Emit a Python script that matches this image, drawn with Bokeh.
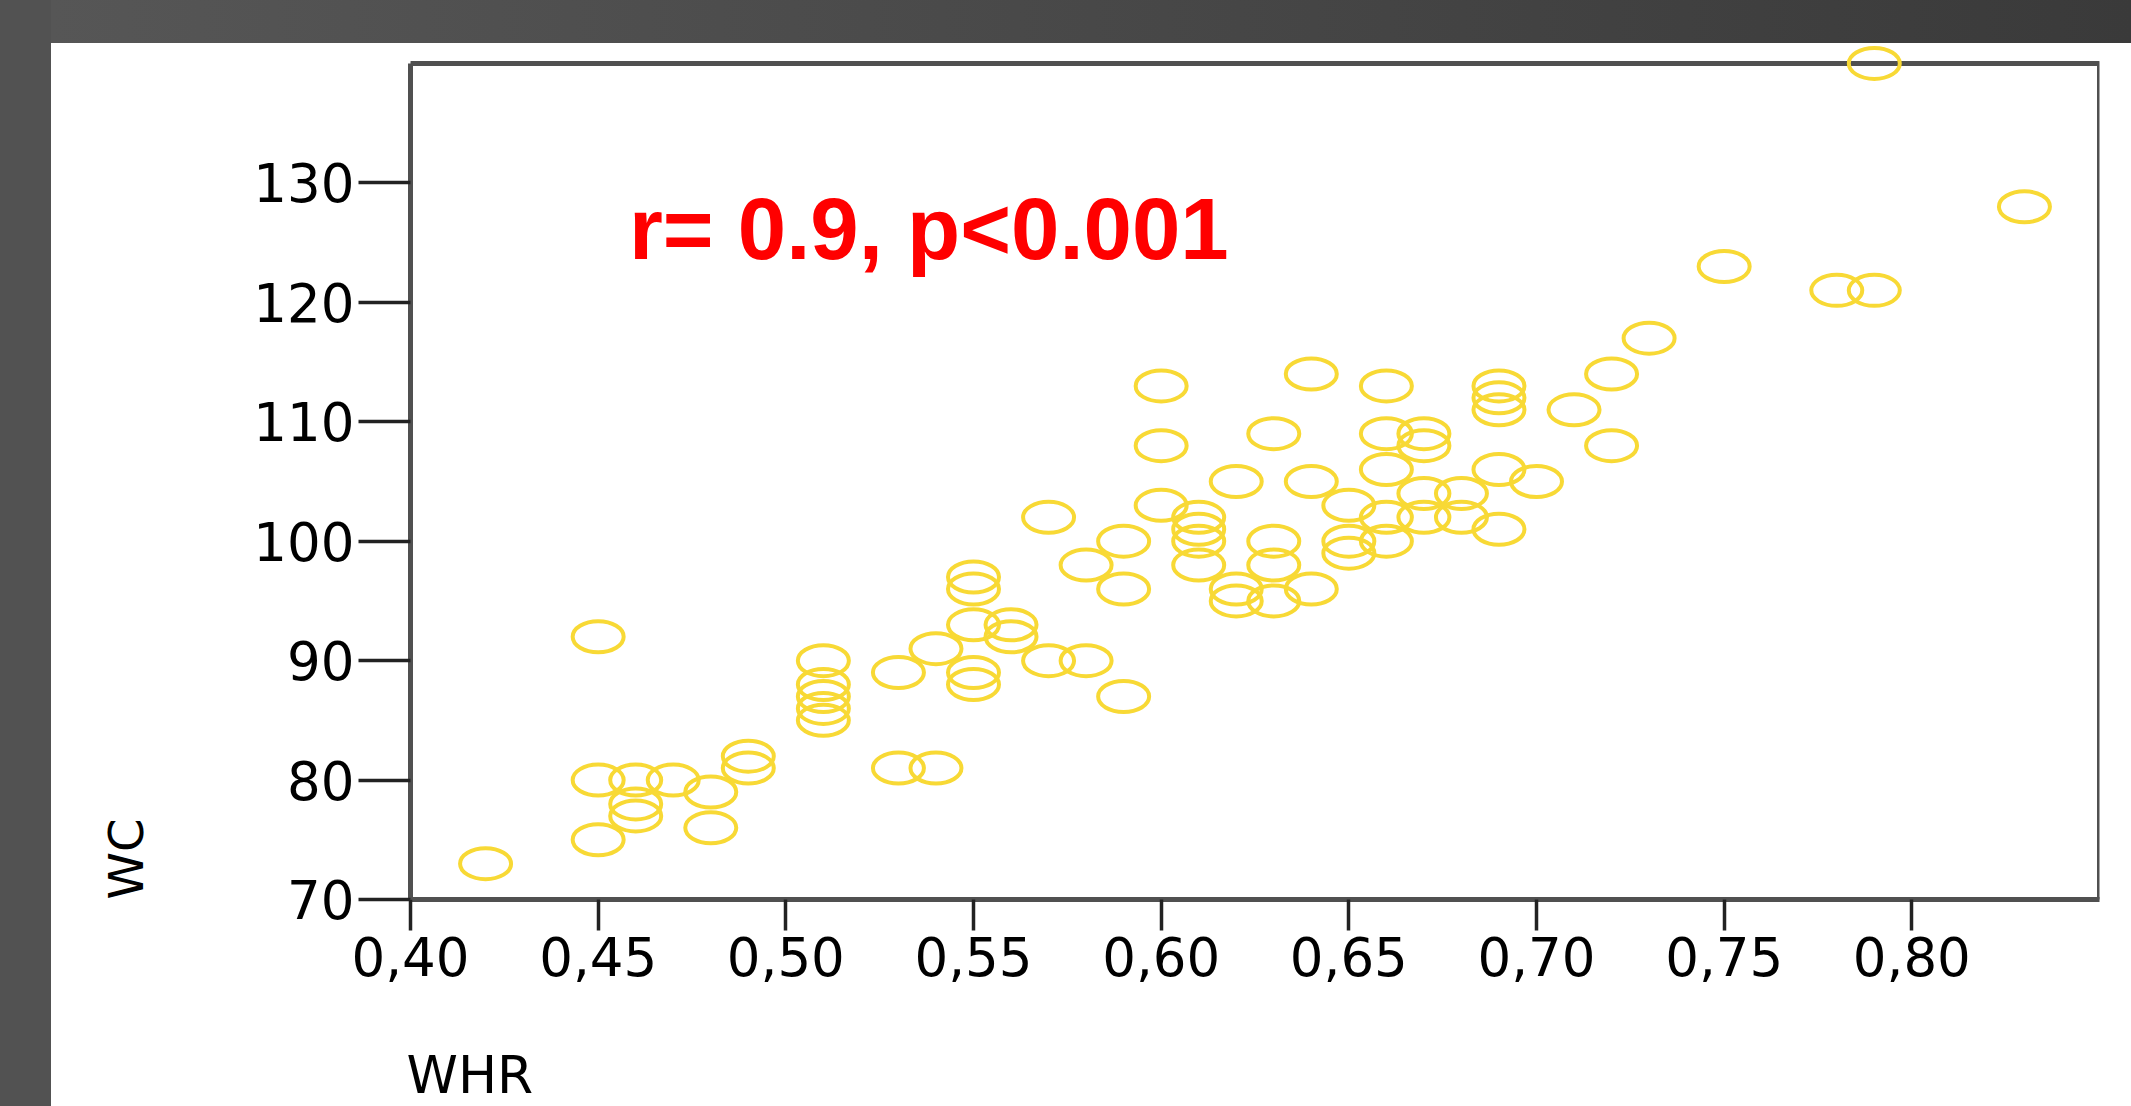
from bokeh.plotting import figure
from bokeh.models import (Range1d, FixedTicker, Label, BoxAnnotation, Spacer,
                          ColumnDataSource, Title)
from bokeh.layouts import row, column
from bokeh.embed import file_html
from bokeh.resources import INLINE

# ---------------- data ----------------
whr = [0.42,
       0.45, 0.45, 0.45,
       0.46, 0.46, 0.46,
       0.47,
       0.48, 0.48,
       0.49, 0.49,
       0.51, 0.51, 0.51, 0.51, 0.51,
       0.53, 0.53,
       0.54, 0.54,
       0.55, 0.55, 0.55, 0.55, 0.55,
       0.56, 0.56,
       0.57, 0.57,
       0.58, 0.58,
       0.59, 0.59, 0.59,
       0.60, 0.60, 0.60,
       0.61, 0.61, 0.61, 0.61,
       0.62, 0.62, 0.62,
       0.63, 0.63, 0.63, 0.63,
       0.64, 0.64, 0.64,
       0.65, 0.65, 0.65,
       0.66, 0.66, 0.66, 0.66, 0.66,
       0.67, 0.67, 0.67, 0.67,
       0.68, 0.68,
       0.69, 0.69, 0.69, 0.69, 0.69,
       0.70,
       0.71,
       0.72, 0.72,
       0.73,
       0.75,
       0.78,
       0.79, 0.79,
       0.83]
wc = [73,
      92, 80, 75,
      80, 78, 77,
      80,
      79, 76,
      82, 81,
      90, 88, 87, 86, 85,
      89, 81,
      91, 81,
      97, 96, 93, 89, 88,
      93, 92,
      102, 90,
      98, 90,
      100, 96, 87,
      113, 108, 103,
      102, 101, 100, 98,
      105, 96, 95,
      109, 100, 98, 95,
      114, 105, 96,
      103, 100, 99,
      113, 109, 106, 102, 100,
      109, 108, 104, 102,
      104, 102,
      113, 112, 111, 106, 101,
      105,
      111,
      114, 108,
      117,
      123,
      121,
      140, 121,
      128]

x_ticks = [0.40, 0.45, 0.50, 0.55, 0.60, 0.65, 0.70, 0.75, 0.80]
x_tick_labels = ["0,40", "0,45", "0,50", "0,55", "0,60", "0,65", "0,70", "0,75", "0,80"]
y_ticks = [70, 80, 90, 100, 110, 120, 130]
y_tick_labels = ["70", "80", "90", "100", "110", "120", "130"]

x_title = "WHR"
y_title = "WC"
stat_text = "r= 0.9, p<0.001"

# ---------------- figure ----------------
FRAME_GRAY = "#505050"
YELLOW = "#F8D935"

p = figure(width=2080, height=1063,
           x_range=Range1d(0.40, 0.85), y_range=Range1d(70, 141.67),
           output_backend="svg", toolbar_location=None,
           min_border_left=359, min_border_right=32,
           min_border_top=0, min_border_bottom=207)
p.background_fill_color = "white"
p.border_fill_color = "white"
p.outline_line_color = None
p.xgrid.visible = False
p.ygrid.visible = False

src = ColumnDataSource(data=dict(whr=whr, wc=wc))
p.ellipse(x="whr", y="wc", width=51, height=31,
          width_units="screen", height_units="screen",
          fill_color=None, line_color=YELLOW, line_width=4, source=src)

# frame box (top/right edges; left/bottom coincide with the axes)
p.add_layout(BoxAnnotation(left=0.40, right=0.85, bottom=70, top=140,
                           fill_alpha=0, fill_color=None,
                           line_color=FRAME_GRAY, line_alpha=1.0,
                           line_width=5, level="underlay"))

for ax in (p.xaxis[0], p.yaxis[0]):
    ax.axis_line_color = FRAME_GRAY
    ax.axis_line_width = 5
    ax.major_tick_line_color = "#222222"
    ax.major_tick_line_width = 3.5
    ax.major_tick_in = 0
    ax.minor_tick_line_color = None
    ax.major_label_text_font = "DejaVu Sans"
    ax.major_label_text_font_size = "53px"
    ax.major_label_text_color = "black"

p.xaxis.ticker = FixedTicker(ticks=x_ticks)
p.xaxis.major_label_overrides = {t: s for t, s in zip(x_ticks, x_tick_labels)}
p.xaxis.major_tick_out = 31
p.xaxis.major_label_standoff = 6
p.xaxis.bounds = (0.40, 0.85)

p.yaxis.ticker = FixedTicker(ticks=y_ticks)
p.yaxis.major_label_overrides = {t: s for t, s in zip(y_ticks, y_tick_labels)}
p.yaxis.major_tick_out = 52
p.yaxis.major_label_standoff = 4
p.yaxis.bounds = (70, 140)

# correlation annotation
p.add_layout(Label(x=0.4582, y=126.2, text=stat_text,
                   text_font="Liberation Sans", text_font_style="bold",
                   text_font_size="87px", text_color="#FF0000",
                   text_align="left", text_baseline="middle"))

# axis titles, aligned to the start of each axis as in the original;
# a blank title in front of each one only reserves the gap to the axis
p.add_layout(Title(text=" ", text_font_size="10px", standoff=51), "below")
p.add_layout(Title(text=x_title, align="left", vertical_align="bottom",
                   standoff=0, offset=-4,
                   text_font="DejaVu Sans", text_font_size="52px",
                   text_font_style="normal", text_color="black"), "below")
p.add_layout(Title(text=" ", text_font_size="10px", standoff=82), "left")
p.add_layout(Title(text=y_title, align="left", vertical_align="top",
                   standoff=0, offset=0,
                   text_font="DejaVu Sans", text_font_size="48px",
                   text_font_style="normal", text_color="black"), "left")

# dark surround of the original slide
left_strip = Spacer(width=51, height=1106, styles={"background-color": "#525252"})
top_band = Spacer(width=2080, height=43,
                  styles={"background": "linear-gradient(to right, #565656, #3a3a3a)"})
layout = row(left_strip, column(top_band, p))

open("out.html", "w").write(file_html(layout, INLINE))
